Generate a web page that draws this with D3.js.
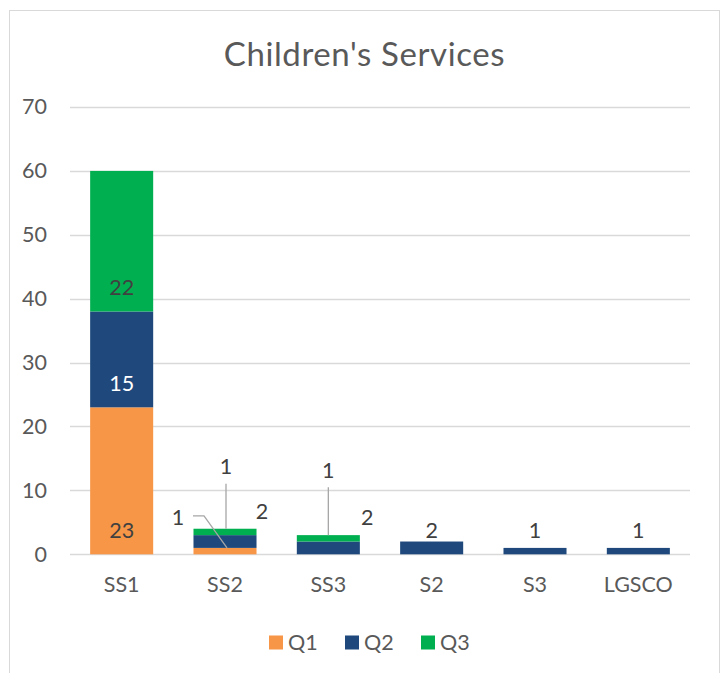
<!DOCTYPE html>
<html>
<head>
<meta charset="utf-8">
<script src="https://cdn.jsdelivr.net/npm/d3@7"></script>
<style>
  html, body { margin: 0; padding: 0; background: #fff; }
  svg { display: block; }
  text { font-family: Lato, "Open Sans", sans-serif; }
</style>
</head>
<body>
<svg id="chart" width="726" height="673"></svg>
<script>
// Chart data
const categories = ["SS1", "SS2", "SS3", "S2", "S3", "LGSCO"];
const seriesNames = ["Q1", "Q2", "Q3"];
const q1 = [23, 1, 0, 0, 0, 0];
const q2 = [15, 2, 2, 2, 1, 1];
const q3 = [22, 1, 1, 0, 0, 0];
const yTicks = [0, 10, 20, 30, 40, 50, 60, 70];
const title = "Children's Services";

const colors = { Q1: "#F79646", Q2: "#1F497D", Q3: "#00B050" };
const textGray = "#595959";
const labelDark = "#404040";

// Hand-placed labels for the short stacks (offsets from segment top)
const labelPlacement = {
  "SS2|Q1": { dx: -47, dy: -31, leader: "elbow" },
  "SS2|Q2": { dx: 37, dy: -24 },
  "SS2|Q3": { dx: 1, dy: -62, leader: "vertical" },
  "SS3|Q2": { dx: 39, dy: -24 },
  "SS3|Q3": { dx: 0, dy: -65, leader: "vertical" }
};

const svg = d3.select("#chart");

// Chart frame
svg.append("rect")
  .attr("x", 9.5).attr("y", 10.5)
  .attr("width", 710).attr("height", 700)
  .attr("fill", "#fff").attr("stroke", "#D9D9D9").attr("stroke-width", 1);

const plot = { left: 70, right: 690, top: 107, bottom: 554.3 };

const x = d3.scaleBand()
  .domain(categories)
  .range([plot.left, plot.right])
  .paddingInner(0.39)
  .paddingOuter(0.195);

const y = d3.scaleLinear()
  .domain([0, 70])
  .range([plot.bottom, plot.top]);

// Title
svg.append("text")
  .attr("x", 364.5).attr("y", 66)
  .attr("text-anchor", "middle")
  .attr("font-size", 33)
  .attr("letter-spacing", 0.6)
  .attr("fill", textGray)
  .text(title);

// Gridlines
svg.append("g")
  .selectAll("line")
  .data(yTicks)
  .join("line")
  .attr("x1", plot.left).attr("x2", plot.right)
  .attr("y1", d => Math.round(y(d)) + 0.5)
  .attr("y2", d => Math.round(y(d)) + 0.5)
  .attr("stroke", "#D9D9D9")
  .attr("stroke-width", d => d === 0 ? 1.5 : 1.3);

// Y axis labels
const yAxis = d3.axisLeft(y).tickValues(yTicks).tickSize(0).tickPadding(0);
const yg = svg.append("g")
  .attr("transform", `translate(47,0)`)
  .call(yAxis);
yg.select(".domain").remove();
yg.selectAll("text")
  .attr("font-size", 21.5)
  .attr("fill", textGray)
  .attr("font-family", "Lato, 'Open Sans', sans-serif");

// X axis labels
const xAxis = d3.axisBottom(x).tickSize(0).tickPadding(0);
const xg = svg.append("g")
  .attr("transform", `translate(0,${plot.bottom})`)
  .call(xAxis);
xg.select(".domain").remove();
xg.selectAll("text")
  .attr("y", 38)
  .attr("dy", 0)
  .attr("font-size", 21.5)
  .attr("fill", textGray)
  .attr("font-family", "Lato, 'Open Sans', sans-serif");

// Stacked bars
const rows = categories.map((c, i) => ({ cat: c, Q1: q1[i], Q2: q2[i], Q3: q3[i] }));
const stack = d3.stack().keys(seriesNames)(rows);

const barG = svg.append("g");
stack.forEach(layer => {
  barG.append("g")
    .attr("fill", colors[layer.key])
    .selectAll("rect")
    .data(layer.filter(d => d[1] - d[0] > 0))
    .join("rect")
    .attr("x", d => x(d.data.cat))
    .attr("width", x.bandwidth())
    .attr("y", d => y(d[1]))
    .attr("height", d => y(d[0]) - y(d[1]));
});

// Data labels (inside base by default)
const labelG = svg.append("g");
const leaderG = svg.append("g");
stack.forEach(layer => {
  layer.forEach(d => {
    const val = d[1] - d[0];
    if (val <= 0) return;
    const key = d.data.cat + "|" + layer.key;
    const cx = x(d.data.cat) + x.bandwidth() / 2;
    const place = labelPlacement[key];
    let lx = cx, ly = y(d[0]) - 24;
    if (place) {
      lx = cx + place.dx;
      ly = y(d[1]) + place.dy;
    }
    labelG.append("text")
      .attr("x", lx).attr("y", ly)
      .attr("dy", "0.36em")
      .attr("text-anchor", "middle")
      .attr("font-size", 21.5)
      .attr("fill", layer.key === "Q2" && !place && val > 5 ? "#fff" : labelDark)
      .text(val);
    if (place && place.leader === "vertical") {
      leaderG.append("line")
        .attr("x1", lx).attr("x2", lx)
        .attr("y1", ly + 17).attr("y2", y(d[1]))
        .attr("stroke", "#A6A6A6").attr("stroke-width", 1.3);
    } else if (place && place.leader === "elbow") {
      leaderG.append("polyline")
        .attr("points", [
          [lx + 15, ly - 1],
          [lx + 26, ly - 1],
          [cx + 2, y(d[1])]
        ].map(p => p.join(",")).join(" "))
        .attr("fill", "none")
        .attr("stroke", "#A6A6A6").attr("stroke-width", 1.3);
    }
  });
});

// Legend
const legend = svg.append("g");
seriesNames.forEach((s, i) => {
  const lx = 269 + i * 76;
  legend.append("rect")
    .attr("x", lx).attr("y", 635.5)
    .attr("width", 14).attr("height", 14)
    .attr("fill", colors[s]);
  legend.append("text")
    .attr("x", lx + 19).attr("y", 642.5)
    .attr("dy", "0.36em")
    .attr("font-size", 21.5)
    .attr("fill", textGray)
    .text(s);
});
</script>
</body>
</html>
